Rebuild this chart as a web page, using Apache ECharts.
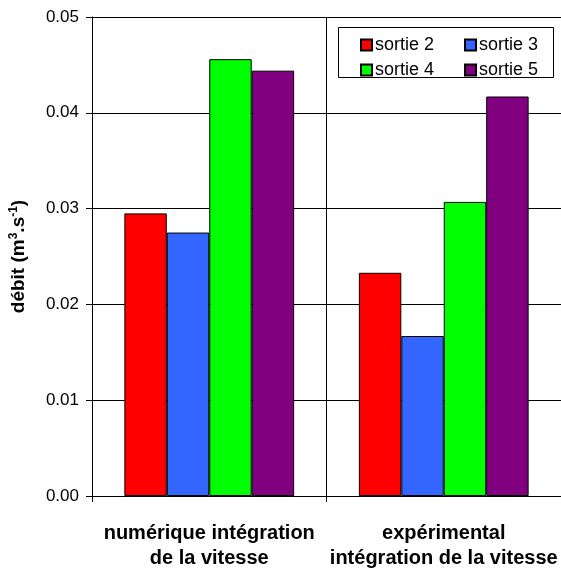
<!DOCTYPE html>
<html>
<head>
<meta charset="utf-8">
<script src="https://cdn.jsdelivr.net/npm/echarts@6/dist/echarts.min.js"></script>
<style>html,body{margin:0;padding:0;background:#fff}#c{width:561px;height:571px}</style>
</head>
<body>
<div id="c"></div>
<script>
const categories = ['numérique intégration\nde la vitesse', 'expérimental\nintégration de la vitesse'];
const seriesNames = ['sortie 2', 'sortie 3', 'sortie 4', 'sortie 5'];
const sortie2 = [0.0295, 0.0233];
const sortie3 = [0.0275, 0.0167];
const sortie4 = [0.0456, 0.0307];
const sortie5 = [0.0444, 0.0417];
const colors = ['#FF0000', '#3366FF', '#00FF00', '#800080'];
const yTicks = [0, 0.01, 0.02, 0.03, 0.04, 0.05];

const FONT = '"Liberation Sans", Arial, sans-serif';
const values = [sortie2, sortie3, sortie4, sortie5];

const chart = echarts.init(document.getElementById('c'), null, {renderer: 'canvas'});
chart.setOption({
  animation: false,
  backgroundColor: '#fff',
  textStyle: {fontFamily: FONT},
  grid: {left: 88, top: 17, width: 478, height: 489, containLabel: false},
  graphic: [{
    type: 'rect', left: 338, top: 27, z: 10,
    shape: {width: 215, height: 50},
    style: {fill: '#fff', stroke: '#000', lineWidth: 1}
  }],
  legend: [
    {data: seriesNames.slice(0, 2), left: 355, top: 31, orient: 'horizontal', itemGap: 30,
     itemWidth: 11, itemHeight: 11, icon: 'rect', z: 20,
     textStyle: {fontSize: 18, color: '#000', fontFamily: FONT, padding: [0, 0, 0, -2]}},
    {data: seriesNames.slice(2, 4), left: 355, top: 56, orient: 'horizontal', itemGap: 30,
     itemWidth: 11, itemHeight: 11, icon: 'rect', z: 20,
     textStyle: {fontSize: 18, color: '#000', fontFamily: FONT, padding: [0, 0, 0, -2]}}
  ],
  xAxis: {
    type: 'category',
    data: categories,
    boundaryGap: true,
    axisLine: {lineStyle: {color: '#000', width: 1}},
    axisTick: {show: true, length: 6, lineStyle: {color: '#000'}},
    splitLine: {show: true, lineStyle: {color: '#000', width: 1}},
    axisLabel: {fontSize: 20, fontWeight: 'bold', color: '#000', lineHeight: 25, margin: 25, fontFamily: FONT, interval: 0}
  },
  yAxis: {
    type: 'value',
    min: yTicks[0], max: yTicks[yTicks.length - 1], interval: 0.01,
    axisLine: {show: true, lineStyle: {color: '#000', width: 1}},
    axisTick: {show: true, length: 6, lineStyle: {color: '#000'}},
    splitLine: {show: true, lineStyle: {color: '#000', width: 1}},
    axisLabel: {fontSize: 17, color: '#000', margin: 13, fontFamily: FONT,
      formatter: v => v.toFixed(2)},
    name: '{a|débit (m}{s|3}{a|.s}{s|-1}{a|)}',
    nameLocation: 'middle',
    nameGap: 62,
    nameRotate: 90,
    nameTextStyle: {
      rich: {
        a: {fontSize: 19, fontWeight: 'bold', color: '#000', fontFamily: FONT, lineHeight: 22},
        s: {fontSize: 12, fontWeight: 'bold', color: '#000', fontFamily: FONT, verticalAlign: 'top', lineHeight: 22}
      }
    }
  },
  series: seriesNames.map((n, i) => ({
    name: n,
    type: 'bar',
    data: values[i],
    barGap: '0%',
    barCategoryGap: '27.6%',
    itemStyle: {color: colors[i], borderColor: '#000', borderWidth: 1}
  }))
});
</script>
</body>
</html>
